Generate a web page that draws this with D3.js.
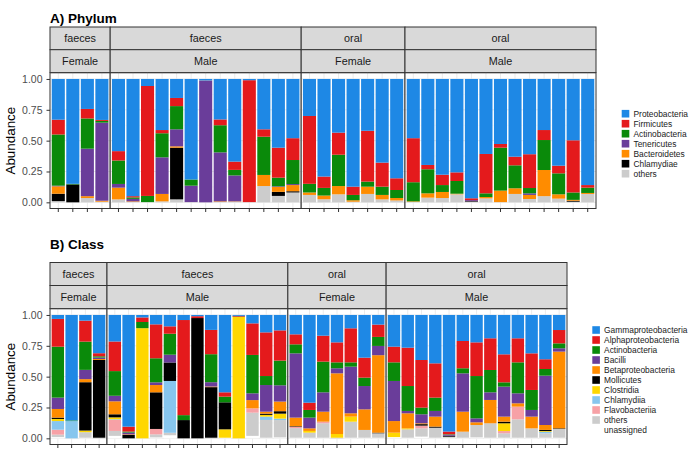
<!DOCTYPE html>
<html>
<head>
<meta charset="utf-8">
<script src="https://cdn.jsdelivr.net/npm/d3@7"></script>
<style>
  html, body { margin: 0; padding: 0; background: #ffffff; }
  svg { display: block; font-family: "Liberation Sans", Arial, Helvetica, sans-serif; }
</style>
</head>
<body>
<svg id="chart" width="689" height="452"></svg>
<script>
// ---------------- DATA ----------------
const facetSites = ["faeces", "faeces", "oral", "oral"];
const facetSexes = ["Female", "Male", "Female", "Male"];
const facetSizes = [4, 13, 7, 13];
const yTicks = [0, 0.25, 0.5, 0.75, 1.0];

// Panel A: Phylum (legend order, top of stack first)
const phylumNames = ["Proteobacteria", "Firmicutes", "Actinobacteria", "Tenericutes", "Bacteroidetes", "Chlamydiae", "others"];
const phylumColors = ["#1E88E5", "#E41A1C", "#0A8A0A", "#6A3D9A", "#FF8C00", "#000000", "#CCCCCC"];
const Proteobacteria = [.33,.85,.243,.332, .585,.95,.057,.414,.154,.815,.013,.328,.67,.01,.408,.557,.48, .3,.791,.435,.873,.42,.678,.805, .48,.697,.776,.757,.967,.608,.527,.63,.61,.414,.703,.497,.86];
const Firmicutes = [.12,0,.077,.008, .076,.01,.891,.026,.066,0,.003,.047,.067,.988,.06,.243,.177, .55,.092,.179,.067,.412,.195,.095, .357,.035,.084,.07,.015,.319,.03,.07,.274,.081,.062,.423,.021];
const Actinobacteria = [.415,.005,.245,.014, .19,.012,.05,.195,.188,.05,0,.22,.045,0,.31,.07,.195, .07,.062,.254,.043,.041,.067,.065, .155,.195,.056,.103,0,.03,.348,.186,.043,.243,.17,.06,.043];
const Tenericutes = [.005,0,.385,.633, .03,.02,0,.297,.138,.133,.984,.397,.21,0,0,.005,.008, 0,0,0,0,0,0,0, 0,0,0,0,.008,0,0,0,.013,0,0,0,0];
const Bacteroidetes = [.06,0,.015,.008, .095,.005,0,.06,.011,0,0,.005,.003,0,.09,.04,.05, .02,.03,.067,.012,.059,.036,.02, .005,.035,.049,.005,0,.011,.093,.046,.033,.212,.035,.007,.008];
const Chlamydiae = [.06,.145,0,0, 0,0,0,0,.419,0,0,0,0,0,0,.033,.01, 0,0,0,0,0,0,0, 0,0,0,0,.005,0,0,0,0,0,0,.008,0];
const phylumOthers = [.01,0,.035,.005, .024,.003,.002,.008,.024,.002,0,.003,.005,.002,.132,.052,.08, .06,.025,.065,.005,.068,.024,.015, .003,.038,.035,.065,.005,.032,.002,.068,.027,.05,.03,.005,.068];
const phylumSeries = [Proteobacteria, Firmicutes, Actinobacteria, Tenericutes, Bacteroidetes, Chlamydiae, phylumOthers];

// Panel B: Class (legend order, top of stack first)
const classNames = ["Gammaproteobacteria", "Alphaproteobacteria", "Actinobacteria", "Bacilli", "Betaproteobacteria", "Mollicutes", "Clostridia", "Chlamydiia", "Flavobacteriia", "others", "unassigned"];
const classColors = ["#1E88E5", "#E41A1C", "#0A8A0A", "#6A3D9A", "#FF8C00", "#000000", "#FFD700", "#87C6EE", "#F7A1A6", "#CCCCCC", "#FFFFFF"];
const Gammaproteobacteria = [.032,.855,.046,.31, .215,.905,.02,.076,.092,.041,.01,.121,.627,.007,.068,.141,.125, .157,.711,.168,.222,.108,.346,.078, .257,.265,.365,.392,.945,.211,.222,.189,.319,.189,.311,.359,.122];
const Alphaproteobacteria = [.225,0,.17,.025, .24,.04,.037,.275,.06,.771,.015,.197,.035,.005,.256,.354,.245, .081,.059,.21,.162,.276,.162,.1, .127,.311,.386,.278,.022,.221,.273,.257,.227,.195,.297,.079,.108];
const ActinobacteriaC = [.413,.005,.229,.01, .2,.008,.05,.195,.17,.04,0,.227,.046,0,.311,.073,.2, .073,.062,.249,.048,.035,.068,.073, .151,.202,.054,.108,.004,.041,.343,.181,.035,.251,.162,.054,.04];
const Bacilli = [.092,0,.075,.012, .045,.015,0,.022,.063,0,0,.035,0,0,.055,.216,.132, .521,.087,.157,.041,.378,.189,.075, .325,.019,.073,.046,.008,.311,.032,.062,.243,.081,.054,.4,.027];
const Betaproteobacteria = [.07,0,.025,.008, .105,.005,0,.059,0,0,0,.005,0,0,.067,.016,.078, .07,.021,.081,.492,.027,.167,.628, .094,.122,.007,.081,0,.162,.022,.189,.041,.027,.095,.04,.622];
const Mollicutes = [.011,0,.392,.63, .025,.027,0,.297,.15,.148,.975,.41,.219,.003,0,.01,.02, .005,0,0,0,0,0,.005, 0,0,.012,.009,.008,0,0,0,.013,0,0,.009,.005];
const Clostridia = [.017,0,.013,0, .015,0,.893,0,0,0,0,0,.068,.985,0,.014,.04, 0,.014,0,.03,.041,0,0, .036,.008,0,0,0,0,0,0,.063,0,0,.006,0];
const Chlamydiia = [.07,.14,0,0, .005,0,0,0,.42,0,0,0,0,0,0,.027,.012, 0,0,0,0,0,0,0, 0,0,0,0,0,0,0,0,0,0,0,.012,0];
const Flavobacteriia = [.04,0,0,0, .09,0,0,.044,0,0,0,0,0,0,.035,0,0, .01,0,.013,0,0,0,0, 0,0,.022,0,0,0,0,0,.018,.103,0,0,0];
const classOthers = [.02,0,.045,.005, .04,0,0,.024,.02,0,0,.005,0,0,.188,.144,.14, .078,.041,.117,.005,.13,.063,.036, 0,.068,.067,.081,.008,.049,.1,.117,.036,.149,.076,.036,.071];
const classUnassigned = [.01,0,.005,0, .02,0,0,.008,.025,0,0,0,.005,0,.02,.005,.008, .005,.005,.005,0,.005,.005,.005, .01,.005,.014,.005,.005,.005,.008,.005,.005,.005,.005,.005,.005];
const classSeries = [Gammaproteobacteria, Alphaproteobacteria, ActinobacteriaC, Bacilli, Betaproteobacteria, Mollicutes, Clostridia, Chlamydiia, Flavobacteriia, classOthers, classUnassigned];

// ---------------- DRAW ----------------
const svg = d3.select("#chart");
svg.append("rect").attr("width", 689).attr("height", 452).attr("fill", "#ffffff");

// sample ids per facet
const sampleIds = [];
facetSizes.forEach((n, f) => { for (let i = 0; i < n; i++) sampleIds.push({ id: "F" + f + "_" + i, facet: f }); });

function drawPanel(cfg) {
  const g = svg.append("g");
  const names = cfg.names, colors = cfg.colors, series = cfg.series;
  // table rows
  const rows = sampleIds.map((s, i) => {
    const r = { id: s.id, facet: s.facet };
    names.forEach((nm, k) => { r[nm] = series[k][i]; });
    return r;
  });
  const stackKeys = names.slice().reverse(); // bottom -> top
  const stacked = d3.stack().keys(stackKeys)(rows);
  const colorScale = d3.scaleOrdinal().domain(names).range(colors);

  const y = d3.scaleLinear().domain([-0.05, 1.05]).range([cfg.panelBottom, cfg.panelTop]);

  // facet widths (space = "free")
  const e = 0.07;
  const totalUnits = d3.sum(facetSizes, n => n + 2 * e);
  const ux = d3.scaleLinear().domain([0, totalUnits]).range([cfg.x0, cfg.x1]);
  let cum = 0;
  const facets = facetSizes.map((n, f) => {
    const fx0 = ux(cum), fx1 = ux(cum + n + 2 * e);
    const innerPad = ux(cum + e) - fx0;
    cum += n + 2 * e;
    const ids = sampleIds.filter(s => s.facet === f).map(s => s.id);
    const band = d3.scaleBand().domain(ids).range([fx0 + innerPad, fx1 - innerPad]).paddingInner(0.1).paddingOuter(0.05);
    return { f, fx0, fx1, band, ids };
  });

  // title
  g.append("text").attr("x", 50).attr("y", cfg.titleY).attr("font-size", 13.5).attr("font-weight", "bold")
    .attr("fill", "#000").text(cfg.title);

  facets.forEach(fc => {
    const w = fc.fx1 - fc.fx0;
    // strips
    [[facetSites[fc.f], cfg.strip1], [facetSexes[fc.f], cfg.strip2]].forEach(([lab, sy]) => {
      g.append("rect").attr("x", fc.fx0).attr("y", sy[0]).attr("width", w).attr("height", sy[1] - sy[0])
        .attr("fill", "#D9D9D9").attr("stroke", "#333333").attr("stroke-width", 1);
      g.append("text").attr("x", (fc.fx0 + fc.fx1) / 2).attr("y", (sy[0] + sy[1]) / 2).attr("dy", "0.35em")
        .attr("text-anchor", "middle").attr("font-size", 10.8).attr("fill", "#1A1A1A").text(lab);
    });
    // panel background + grid
    g.append("rect").attr("x", fc.fx0).attr("y", cfg.panelTop).attr("width", w).attr("height", cfg.panelBottom - cfg.panelTop)
      .attr("fill", "#ffffff");
    const minor = [0.125, 0.375, 0.625, 0.875];
    g.selectAll(null).data(minor).enter().append("line")
      .attr("x1", fc.fx0).attr("x2", fc.fx1).attr("y1", d => y(d)).attr("y2", d => y(d))
      .attr("stroke", "#F2F2F2").attr("stroke-width", 0.5);
    g.selectAll(null).data(yTicks).enter().append("line")
      .attr("x1", fc.fx0).attr("x2", fc.fx1).attr("y1", d => y(d)).attr("y2", d => y(d))
      .attr("stroke", "#EBEBEB").attr("stroke-width", 1);
    g.selectAll(null).data(fc.ids).enter().append("line")
      .attr("x1", d => fc.band(d) + fc.band.bandwidth() / 2).attr("x2", d => fc.band(d) + fc.band.bandwidth() / 2)
      .attr("y1", cfg.panelTop).attr("y2", cfg.panelBottom)
      .attr("stroke", "#EBEBEB").attr("stroke-width", 1);

    // bars
    stacked.forEach(layer => {
      const key = layer.key;
      const segs = layer.filter(d => d.data.facet === fc.f && d[1] - d[0] > 0);
      g.selectAll(null).data(segs).enter().append("rect")
        .attr("x", d => fc.band(d.data.id))
        .attr("width", fc.band.bandwidth())
        .attr("y", d => y(d[1]))
        .attr("height", d => y(d[0]) - y(d[1]))
        .attr("fill", colorScale(key));
    });

    // panel border
    g.append("rect").attr("x", fc.fx0).attr("y", cfg.panelTop).attr("width", w).attr("height", cfg.panelBottom - cfg.panelTop)
      .attr("fill", "none").attr("stroke", "#333333").attr("stroke-width", 1);

    // x axis (ticks only)
    const xa = g.append("g").attr("transform", `translate(0,${cfg.panelBottom})`)
      .call(d3.axisBottom(fc.band).tickSize(3.5).tickFormat(""));
    xa.select(".domain").remove();
    xa.selectAll("line").attr("stroke", "#333333");
  });

  // y axis
  const ya = g.append("g").attr("transform", `translate(${cfg.x0},0)`)
    .call(d3.axisLeft(y).tickValues(yTicks).tickFormat(d3.format(".2f")).tickSize(3.5).tickPadding(4));
  ya.select(".domain").remove();
  ya.selectAll("line").attr("stroke", "#333333");
  ya.selectAll("text").attr("font-size", 10.5).attr("fill", "#4D4D4D").attr("font-family", "Liberation Sans, Arial, sans-serif");

  // y title
  g.append("text").attr("transform", `translate(10,${(cfg.panelTop + cfg.panelBottom) / 2}) rotate(-90)`)
    .attr("dy", "0.35em").attr("text-anchor", "middle").attr("font-size", 13.4).attr("fill", "#000").text("Abundance");

  // legend
  const lg = g.append("g");
  names.forEach((nm, k) => {
    const cy = cfg.legendY + k * 10;
    lg.append("rect").attr("x", cfg.legendX).attr("y", cy - 3.8).attr("width", 7.6).attr("height", 7.6)
      .attr("fill", colorScale(nm));
    lg.append("text").attr("x", cfg.legendX + 11.8).attr("y", cy).attr("dy", "0.35em")
      .attr("font-size", 8.4).attr("fill", "#1A1A1A").text(nm);
  });
}

drawPanel({
  title: "A) Phylum", titleY: 22.5,
  names: phylumNames, colors: phylumColors, series: phylumSeries,
  strip1: [27, 49.7], strip2: [49.7, 72.5],
  panelTop: 72.8, panelBottom: 208.5,
  x0: 50, x1: 596,
  legendX: 621.7, legendY: 113.7
});

drawPanel({
  title: "B) Class", titleY: 249,
  names: classNames, colors: classColors, series: classSeries,
  strip1: [262.5, 285.5], strip2: [285.5, 308.5],
  panelTop: 308.8, panelBottom: 444.5,
  x0: 50, x1: 567,
  legendX: 592.3, legendY: 330
});
</script>
</body>
</html>
